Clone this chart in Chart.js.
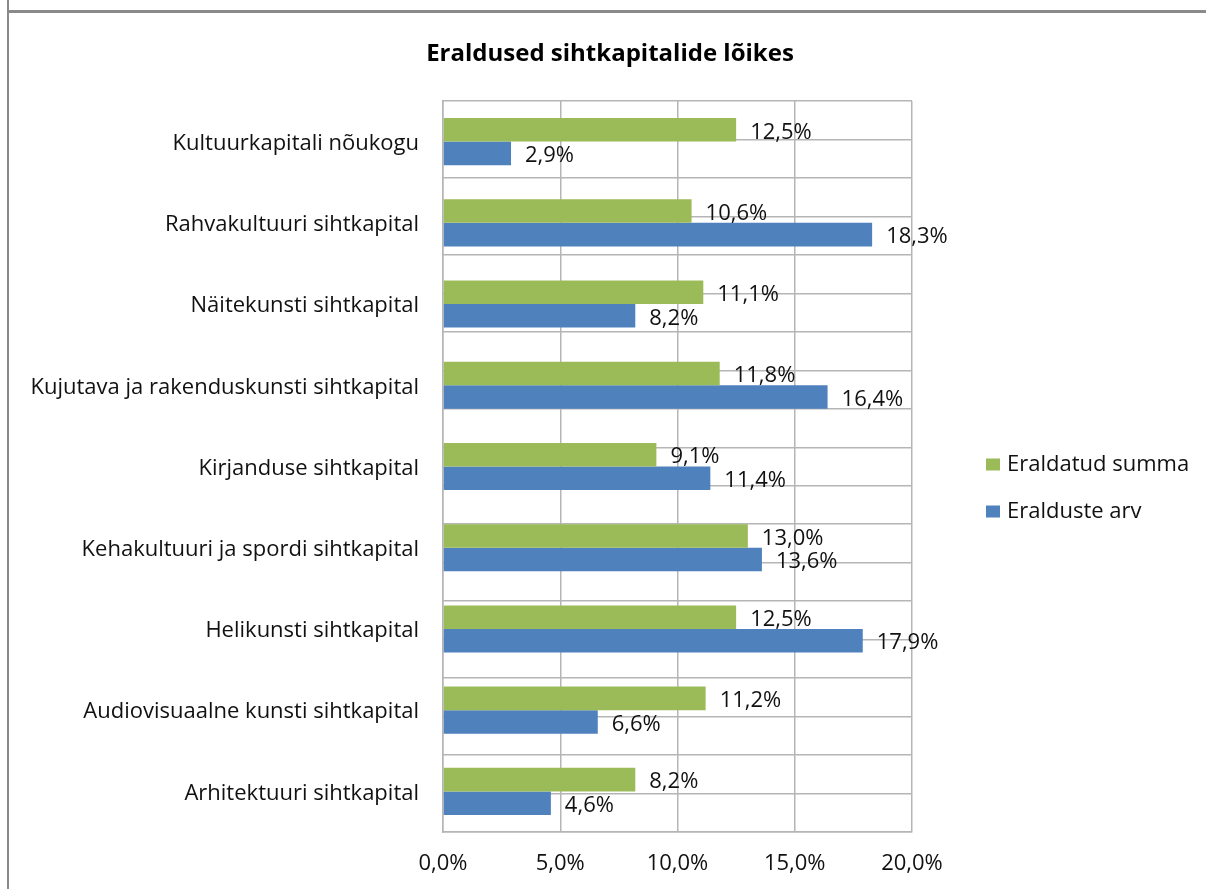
<!DOCTYPE html>
<html>
<head>
<meta charset="utf-8">
<script src="https://cdn.jsdelivr.net/npm/chart.js@4/dist/chart.umd.min.js"></script>
<style>
    html, body { margin: 0; padding: 0; background: #fff; }
    #wrap { position: relative; width: 1206px; height: 889px; overflow: hidden; }
    #frameLeft { position: absolute; left: 7px; top: 0; width: 2px; height: 889px; background: #8a8a8a; }
    #frameTop { position: absolute; left: 7px; top: 10px; width: 1199px; height: 3px; background: #8a8a8a; }
    canvas { position: absolute; left: 0; top: 0; }
</style>
</head>
<body>
<div id="wrap">
    <canvas id="barChart" width="1206" height="889"></canvas>
    <div id="frameLeft"></div>
    <div id="frameTop"></div>
</div>
<script>
// ===== Data =====
const categories = [
    'Kultuurkapitali nõukogu',
    'Rahvakultuuri sihtkapital',
    'Näitekunsti sihtkapital',
    'Kujutava ja rakenduskunsti sihtkapital',
    'Kirjanduse sihtkapital',
    'Kehakultuuri ja spordi sihtkapital',
    'Helikunsti sihtkapital',
    'Audiovisuaalne kunsti sihtkapital',
    'Arhitektuuri sihtkapital'
];
const eraldatudSumma = [12.5, 10.6, 11.1, 11.8, 9.1, 13.0, 12.5, 11.2, 8.2];
const eraldusteArv = [2.9, 18.3, 8.2, 16.4, 11.4, 13.6, 17.9, 6.6, 4.6];
const xTicks = [0, 5, 10, 15, 20];

const FONT = '"Open Sans", sans-serif';
const GRID = '#b5b5b5';
const TEXT = '#111';

function pct(v) {
    return v.toFixed(1).replace('.', ',') + '%';
}

// data labels next to bar ends
const barLabels = {
    id: 'barLabels',
    afterDatasetsDraw(chart) {
        const ctx = chart.ctx;
        ctx.save();
        ctx.font = '22px ' + FONT;
        ctx.fillStyle = TEXT;
        ctx.textAlign = 'left';
        ctx.textBaseline = 'middle';
        chart.data.datasets.forEach((ds, i) => {
            chart.getDatasetMeta(i).data.forEach((bar, j) => {
                ctx.fillText(pct(ds.data[j]), bar.x + 14, bar.y + 2.5);
            });
        });
        ctx.restore();
    }
};

// legend on the right side
const sideLegend = {
    id: 'sideLegend',
    afterDraw(chart) {
        const ctx = chart.ctx;
        const area = chart.chartArea;
        const x = area.right + 74;
        let y = (area.top + area.bottom) / 2 - 3;
        ctx.save();
        ctx.font = '22px ' + FONT;
        ctx.textBaseline = 'middle';
        chart.data.datasets.forEach(ds => {
            ctx.fillStyle = ds.backgroundColor;
            ctx.fillRect(x, y - 5, 14, 12);
            ctx.fillStyle = TEXT;
            ctx.fillText(ds.label, x + 21, y + 1);
            y += 47;
        });
        ctx.restore();
    }
};

new Chart(document.getElementById('barChart'), {
    type: 'bar',
    data: {
        labels: categories,
        datasets: [
            {
                label: 'Eraldatud summa',
                data: eraldatudSumma,
                backgroundColor: '#9BBB59',
                barPercentage: 1,
                categoryPercentage: 0.58
            },
            {
                label: 'Eralduste arv',
                data: eraldusteArv,
                backgroundColor: '#4F81BD',
                barPercentage: 1,
                categoryPercentage: 0.58
            }
        ]
    },
    options: {
        indexAxis: 'y',
        responsive: false,
        animation: false,
        layout: { padding: { left: 14, right: 0, top: 0, bottom: 0 } },
        plugins: {
            legend: { display: false },
            tooltip: { enabled: false },
            title: {
                display: true,
                text: 'Eraldused sihtkapitalide lõikes',
                color: '#000',
                font: { family: FONT, size: 24, weight: 'bold' },
                padding: { top: 39.6, bottom: 32.6 }
            }
        },
        scales: {
            x: {
                min: 0,
                max: 20,
                afterBuildTicks: scale => {
                    scale.ticks = xTicks.map(v => ({ value: v }));
                },
                ticks: {
                    color: TEXT,
                    font: { family: FONT, size: 22 },
                    padding: 19,
                    callback: v => pct(v)
                },
                grid: { color: GRID, lineWidth: 1.5, drawTicks: false },
                border: { color: GRID, width: 1.5 },
                afterFit: scale => { scale.height = 57; }
            },
            y: {
                ticks: {
                    color: TEXT,
                    font: { family: FONT, size: 22 },
                    padding: 24,
                    labelOffset: 2
                },
                grid: { display: false, drawTicks: false },
                border: { color: GRID, width: 1.5 },
                afterFit: scale => { scale.width = 429; }
            },
            yGrid: {
                type: 'linear',
                position: 'left',
                min: 0,
                max: 18,
                ticks: { display: false, stepSize: 1 },
                grid: { color: GRID, lineWidth: 1.5, drawTicks: false },
                border: { display: false },
                afterFit: scale => { scale.width = 0; }
            },
            // empty space on the right, reserved for the legend
            legendSpace: {
                type: 'linear',
                position: 'right',
                min: 0,
                max: 1,
                ticks: { display: false },
                grid: { display: false, drawTicks: false },
                border: { display: false },
                afterFit: scale => { scale.width = 294; }
            }
        }
    },
    plugins: [barLabels, sideLegend]
});
</script>
</body>
</html>
